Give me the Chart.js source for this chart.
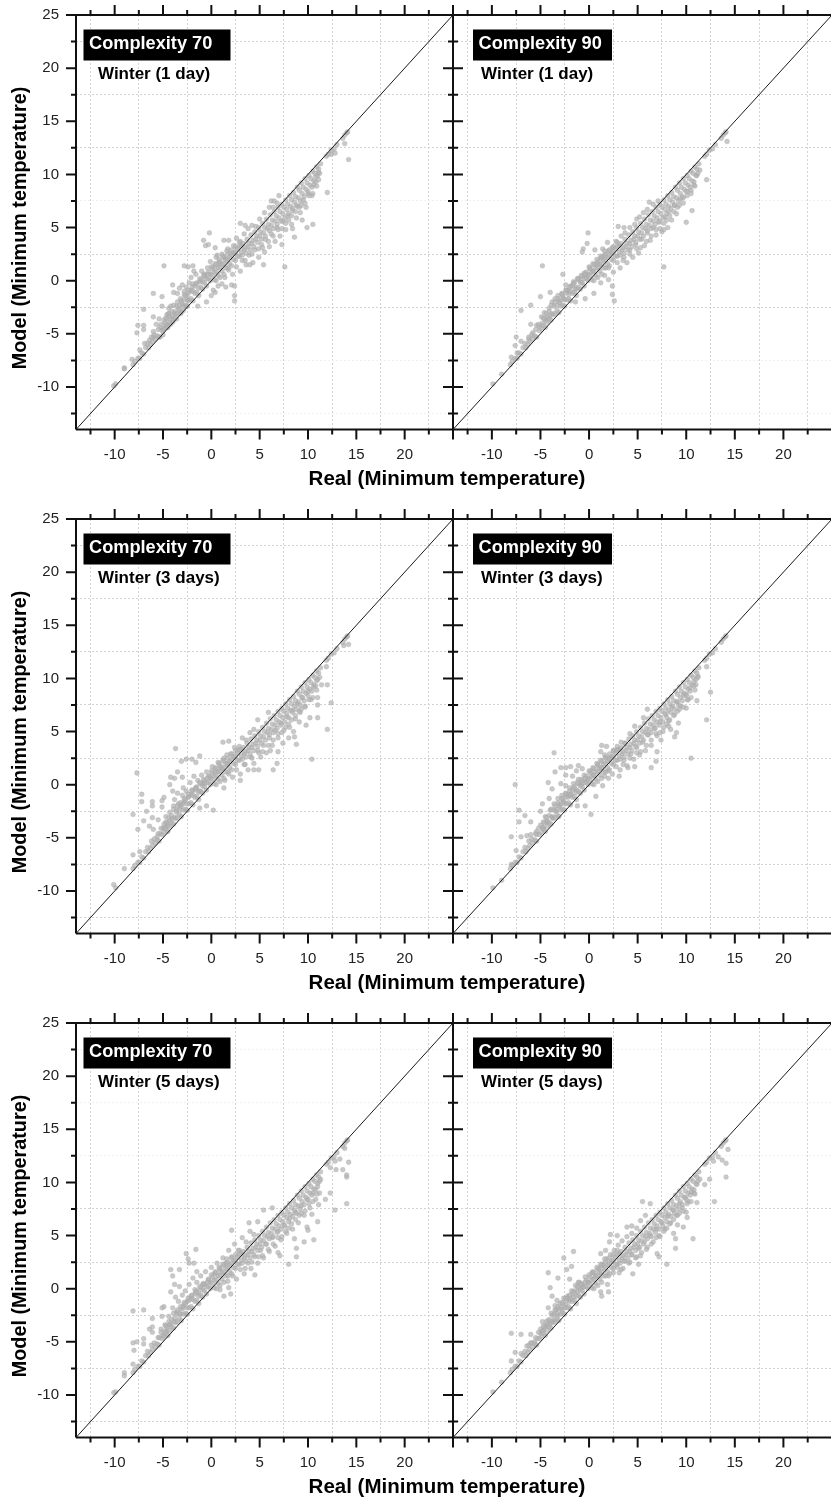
<!DOCTYPE html>
<html>
<head>
<meta charset="utf-8">
<title>Winter minimum temperature</title>
<script src="https://cdn.jsdelivr.net/npm/chart.js@4"></script>
<style>
  html, body { margin: 0; padding: 0; background: #fff; overflow: hidden; }
  #page { position: relative; width: 831px; height: 1503px; overflow: hidden; }
  canvas { position: absolute; }
</style>
</head>
<body>
<div id="page"></div>
<script>
// ticks, every 2.5 degrees, labels only on the multiples of 5
const xTicks = [-12.5,-10,-7.5,-5,-2.5,0,2.5,5,7.5,10,12.5,15,17.5,20,22.5,25];
const yTicks = [-12.5,-10,-7.5,-5,-2.5,0,2.5,5,7.5,10,12.5,15,17.5,20,22.5,25];
const diagonal = [[-14,-14],[25,25]];

const complexities = ['Complexity 70', 'Complexity 90'];
const periods = ['Winter (1 day)', 'Winter (3 days)', 'Winter (5 days)'];
const xTitle = 'Real (Minimum temperature)';
const yTitle = 'Model (Minimum temperature)';

// points hugging the 1:1 line, the same in all six panels
const coreBand = [[-9.9,-9.7],[-8.1,-7.9],[-7.9,-7.6],[-7.6,-7.3],[-7.4,-7.3],[-7.2,-6.8],[-7,-6.9],[-6.8,-6.3],[-6.5,-6.3],[-6.3,-6],[-6.1,-5.7],[-5.8,-5.5],[-5.6,-5.2],[-5.4,-5.3],[-5.1,-4.7],[-4.9,-4.5],[-4.7,-4.2],[-4.5,-4.4],[-4.3,-3.9],[-4.1,-3.6],[-3.9,-3.7],[-3.7,-3.2],[-3.5,-3.1],[-3.3,-2.8],[-3.1,-3],[-2.9,-2.4],[-2.7,-2.3],[-2.5,-2.4],[-2.3,-1.8],[-2.1,-1.7],[-1.9,-1.9],[-1.7,-1.2],[-1.5,-1.1],[-1.3,-1.4],[-1.1,-0.6],[-0.9,-0.8],[-0.7,-0.2],[-0.5,-0.5],[-0.3,0.2],[-0.1,0],[0.1,0.5],[0.3,0.1],[0.5,0.9],[0.7,0.5],[0.9,1.3],[1.1,0.9],[1.3,1.6],[1.5,1.2],[1.7,2],[1.9,1.6],[2.1,2.4],[2.3,2],[2.5,2.7],[2.7,2.3],[2.9,3.2],[3.1,2.7],[3.3,3.5],[3.5,3.1],[3.7,3.9],[3.9,3.5],[4.1,4.3],[4.3,3.8],[4.5,4.6],[4.7,4.2],[4.9,5],[5.1,4.6],[5.3,5.4],[5.5,5],[5.7,5.8],[5.9,5.3],[6.1,6.2],[6.3,5.7],[6.5,6.5],[6.7,6.1],[6.9,6.9],[7.1,6.5],[7.3,7.2],[7.5,6.9],[7.7,7.6],[7.9,7.2],[8.1,8],[8.3,7.6],[8.5,8.3],[8.7,7.9],[8.9,8.8],[9.1,8.5],[9.3,9.2],[9.5,8.8],[9.7,9.6],[9.9,9.2],[10.1,9.9],[10.3,9.6],[10.5,10.3],[10.7,10.1],[10.9,10.7],[11.1,10.5],[11.3,11],[11.9,11.7],[12.1,11.9],[12.4,12.3],[12.7,12.4],[13,12.8],[13.6,13.4],[13.8,13.7],[14,13.9],[14.1,14]];

// the thick part of the cloud either side of the line, also common to the panels
const innerBand = [[-6.6,-5.9],[-6.2,-5.3],[-5.9,-5.1],[-5.5,-4.6],[-5.2,-4.1],[-4.8,-4],[-4.6,-3.6],[-4.3,-3.4],[-4.1,-2.9],[-3.8,-3.1],[-3.6,-2.4],[-3.3,-2.3],[-3.1,-1.9],[-2.9,-1.8],[-2.7,-1.4],[-2.5,-1.8],[-2.3,-1.1],[-2.1,-0.9],[-1.9,-1],[-1.7,-0.5],[-1.5,-0.2],[-1.3,-0.7],[-1.1,0.1],[-0.9,-0.1],[-0.7,0.4],[-0.5,0.2],[-0.3,0.8],[-0.1,0.6],[0.1,1.1],[0.3,0.8],[0.5,1.5],[0.7,1.2],[0.9,1.8],[1.1,1.5],[1.3,2.2],[1.5,1.9],[1.7,2.5],[1.9,2.2],[2.1,2.9],[2.3,2.6],[2.5,3.2],[2.7,3],[2.9,3.6],[3.1,3.3],
  [0.5,0],[0.9,0.3],[1.3,0.6],[1.7,1.2],[2.1,1.4],[2.5,1.9],[2.9,2.3],[3.2,2.4],[3.4,2.9],[3.6,2.6],[3.8,3.2],[4,2.9],[4.2,3.5],[4.4,3.2],[4.6,3.9],[4.8,3.6],[5,4.2],[5.2,3.9],[5.4,4.5],[5.6,4.2],[5.8,4.9],[6,4.7],[6.2,5.2],[6.4,4.9],[6.6,5.6],[6.8,5.3],[7,5.9],[7.2,5.6],[7.4,6.3],[7.6,5.9],[7.8,6.7],[8,6.3],[8.2,7],[8.4,6.8],[8.6,7.4],[8.8,7.1],[9,7.8],[9.2,7.5],[9.4,8.2],[9.6,7.9],[9.8,8.6],[10,8.4],[10.2,9],[10.4,8.8],[10.6,9.4],[10.8,9.3],[11,9.9],[11.2,10.1],
  [3.5,1.9],[4.2,2.5],[4.9,3],[5.3,3.1],[5.9,3.7],[6.4,4.2],[6.9,4.8],[7.3,4.9],[7.7,5.4],[8,5.7],[8.3,6.1],[8.7,6.5],[9.1,6.9],[9.3,7.1],[9.7,7.3],[10.1,8],[10.5,8.2],[10.9,8.9],
  [-4.7,-3.5],[-4.4,-3.1],[-3.9,-2.3],[-3.5,-2],[-3.2,-1.7],[-2.8,-1.3],[-2.4,-0.9],[-2,-0.6],[-1.6,-0.3],[-1.2,0.2],[-0.8,0.5],[-0.4,0.6],[0,1.3],[0.4,1.6],[0.8,2],[1.2,2.3],[1.6,2.8]];

const winter1c70 = [[-4.9,1.4],[-2.8,1.4],[-2.4,1.3],[-1.9,1.4],[-0.2,4.5],[-0.8,3.8],[-0.6,3.3],[-0.3,3.4],[0.4,3.1],[0.6,2.4],[1.3,3.8],[1.8,3.8],[3,5.4],[3.5,5.2],[6.2,7.5],[7,8],[6.5,7.5],[7.6,1.3],[9.9,5],[10.5,5.3],[12,8.3],[14.2,11.4],[13.8,12.9],[12.4,11.9],[12.8,12],[-6,-1.2],[-5.1,-1.5],[-7,-2.7],[-5.1,-2.4],[-6,-3.4],[-5.4,-3.6],[-7.6,-4.2],[-7,-4.2],[-7,-4.6],[-7.7,-4.9],[-6,-4.8],[-9,-8.2],[-9,-8.3],[-10.1,-9.9],[2.4,-1.9],[2.4,-1.4],[2.1,-0.4],[2.4,-0.5],[-1.4,-2.4],[-0.5,-2],[0,-1.4],[0.4,-1.1],
  [-4,-0.4],[-3.9,-1.1],[-3.5,-1.2],[-3.3,-0.7],[-3,-0.4],[-2.8,-1],[-2.6,-0.6],[-2.5,-1.4],[-2.3,-0.2],[-4.4,-3.1],[-4.2,-2.4],[-4,-3.4],[-3.8,-2.9],[-3.6,-3.6],[-3.4,-2.6],[-3.2,-3.1],[-3,-2.2],[-2.9,-2.8],[-2.6,-2.4],[-2.4,-1.9],[-5,-4.6],[-5,-5.1],[-4.7,-4.4],[-4.5,-4.1],[-4.2,-4.1],[-4,-3.9],[-5.3,-5.3],
  [1.4,0.3],[1.8,1],[2.2,0.6],[2.6,1.3],[3,0.9],[3.2,1.9],[3.6,1.5],[3.9,2.4],[4.3,1.7],[4.5,2.9],[4.9,2.2],[5.2,3.4],[5.5,2.7],[5.6,3.9],[6,3.2],[6.2,4.4],[6.6,3.7],[6.8,5],[7.1,4.2],[7.4,5.6],[7.7,4.8],[7.9,6.1],[8.3,5.3],[8.4,6.6],[8.8,5.9],[8.9,7],[9.2,6.4],[9.5,7.6],[9.8,6.9],[10,8.2],[10.4,8],[10.6,9],[11.1,9.5],[11.1,10.2],[10.8,9.8],[9.4,5.7],[8.4,4.9],[8.6,4.1],[7.3,3.4],[5.4,1.5],[4,1.5],
  [-8.2,-7.4],[-7.4,-6.5],[-6.9,-5.9],[-6.4,-5.6],[-6,-5.3],[-5.7,-4.1],[-5.3,-4.4],[-4.9,-3.7],[-4.6,-3.2],[-4.4,-2.6],[-1.9,-0.3],[-1.6,0.6],[-1.2,-0.1],[-1,0.9],[-0.7,0.6],[-0.4,1.2],[-1.8,0.9],[-2.1,0.3],[-0.1,1.8],[0.2,1.3],[0.5,2.2],[0.8,1.7],[1.1,2.5],[1.4,2.1],[1.7,3],[2,2.6],[2.3,3.3],[2.6,4],[3,3.7],[3.4,4.4],[3.8,4.9],[4.2,5.2],[4.6,5.1],[5,5.8],[5.5,6.4],[6,6.9],[6.4,6.9],[6.8,7.3],[0.2,-0.9],[0.7,-0.5],[1.1,-0.3],[1.5,-0.6]];

const winter1c90 = [[-4.8,1.4],[-2.7,0.6],[-0.1,4.5],[-0.2,3.5],[-0.6,3],[-0.7,2.7],[0.6,2.9],[1.4,3],[1.9,3.6],[3,5.1],[3.6,5],[4.9,5.8],[6.2,7.4],[7.1,7.5],[7.7,1.3],[10,5.5],[10.6,6.6],[12.1,9.5],[14.2,13.1],[-5,-1.5],[-6,-2.3],[-7,-2.8],[-6,-4.1],[-7.5,-5.3],[-7,-5.7],[-7.6,-6.1],[-9,-8.8],[2.6,-1.9],[2.4,-1.3],[2.4,-0.5],[2,0.1],[1.2,-0.2],[0.5,-1.2],[-0.4,-1.7],[-1.4,-2],[-2.4,-0.4],[-4,-1.1],
  [-3.8,-2],[-3.5,-1.7],[-3.2,-1.4],[-3,-2.1],[-2.8,-1.2],[-2.6,-1.7],[-2.3,-0.9],[-2.1,-1.3],[-1.9,-0.5],[-1.6,-0.1],[-1.4,-0.8],[-1.1,0.2],[-0.8,-0.2],[-0.5,0.7],[-0.2,0.4],[0.1,1.2],[0.4,0.9],[0.8,1.6],[1.2,2.1],[1.6,2.4],[2,2.8],[2.4,3.1],[2.8,3.7],[3.3,4.2],[3.7,4.5],[4.2,5],[4.7,5.3],[5.2,6],[5.6,6.4],[6,6.7],[6.6,7.2],[-4.9,-3.4],[-4.6,-3],[-4.4,-3.7],[-4.1,-2.6],[-4,-3.3],[-5.4,-4.2],[-5.1,-4.3],[-5.8,-4.9],[-6.2,-5.5],[-7.4,-6.8],[-8,-7.2],
  [1.6,0.5],[2,1.2],[2.5,0.8],[2.9,1.7],[3.2,1.2],[3.6,2.2],[3.9,1.7],[4.2,2.9],[4.5,2.2],[4.8,3.4],[5.1,2.6],[5.4,3.9],[5.7,3.3],[6,4.5],[6.3,3.8],[6.6,5],[6.9,4.3],[7.2,5.5],[7.5,4.6],[7.8,6],[8.1,5],[8.2,6.5],[8.5,5.7],[8.8,7.1],[9,6.3],[9.4,7.7],[9.7,7.8],[10.1,8.4],[10.5,8.5],[10.8,9],[11.1,9.9],[11.4,10.4],[7.7,4.8]];

const winter3c70 = [[-3.7,3.4],[-7.7,1.1],[-7.2,-0.9],[-7.2,-1.6],[-6.1,-1.6],[-6.1,-2],[-4.9,-1.2],[-5.1,-1.5],[-5.1,-2.1],[-8.1,-2.8],[-6.7,-2.5],[-6.1,-3.1],[-7,-3.4],[-5.5,-3.3],[-6.4,-3.9],[-7.6,-4.2],[-6,-4.2],[-4.9,-3.7],[-8.1,-6.6],[-7.4,-6.3],[-9,-7.9],[-10.1,-9.4],[-3.1,2.2],[-2.6,2.4],[-1.2,2.7],[-2,2.4],[-1.6,2.1],[-3.5,1.2],[-4.2,0.7],[-3.8,0.6],[-4.3,0],[-3,0.7],[-4,-0.6],[1.2,4],[1.8,4.1],[10.4,2.4],[12,5.2],[12.4,7.7],[12,9.4],[11.4,9.4],[11.9,11.1],[14.2,13.2],[13.7,13.1],[11,8.2],[11,7.5],[11,6.3],[10.2,6.3],[9.8,5.6],[8.8,3.8],[8.6,4.5],[6.8,2],[6.4,1.4],[6.9,3.1],[6.1,3.2],[0.2,-2.4],[-0.5,-2],[-1.2,-2.2],[1.3,-0.3],[3,0.4],[4.9,1.4],[4.4,1.4],[5.9,6.8],[4.8,6.1],
  [-5.6,-4.9],[-5.3,-4.6],[-5,-4.1],[-4.7,-3],[-4.5,-3.9],[-4.3,-2.6],[-4.1,-3.2],[-3.9,-2],[-3.8,-1.4],[-3.6,-2.6],[-3.5,-0.8],[-3.4,-1.8],[-3.2,-2.1],[-3,-1],[-2.9,-0.3],[-2.8,-1.6],[-2.6,-0.6],[-2.4,-1.2],[-2.2,0.2],[-2,-0.5],[-1.8,0.8],[-1.6,-0.3],[-1.4,0.4],[-1.2,-0.6],[-1,0.9],[-0.8,0.1],[-0.5,1.2],[-0.2,0.8],[0.1,1.7],[0.4,1.2],[0.7,2.1],[1,1.6],[1.3,2.5],[1.7,2],[2,2.9],[2.4,3.5],[2.8,3.3],[3.2,4.4],[3.6,4.2],[4,4.9],[4.4,5.2],
  [1.4,0.4],[1.8,1],[2.2,0.7],[2.6,1.4],[3,1],[3.4,1.9],[3.8,1.4],[4.1,2.6],[4.4,2],[4.8,3.2],[5.1,2.6],[5.4,3.7],[5.7,3],[6,4.4],[6.3,3.7],[6.6,5.1],[6.9,4.4],[7.2,5.8],[7.5,5.1],[7.8,6.4],[8.1,5.4],[8.4,7],[8.7,6.2],[8.9,7.6],[9.2,6.8],[9.4,8.2],[9.7,7.4],[10,8.8],[10.3,8],[10.6,9.2],[10.9,9.8],[8,4.4],[8.5,5],[7.4,3.9],[9.1,5.9]];

const winter3c90 = [[-3.6,3],[-7.6,0],[-7.2,-2.4],[-6.6,-2.9],[-7.2,-3.5],[-6,-3.5],[-5,-2.5],[-8,-4.9],[-7,-4.9],[-6.4,-4.8],[-6,-4.7],[-5.4,-4.4],[-7.5,-6.2],[-8,-7.5],[-9,-9],[-4.8,-1.8],[-4.1,-1.3],[-3.8,-0.4],[-4.2,0.2],[-3.5,1.2],[-2.9,1.6],[-2.4,1.6],[-2.4,0.9],[-1.9,1.7],[-1.1,1.8],[-0.7,1.5],[-1.3,1.3],[-1.7,0.8],[-2.9,0.1],[-2.4,-0.1],[1.3,3.7],[1.8,3.6],[1.2,3.1],[10.5,2.5],[12.1,6.1],[12.5,8.7],[11.1,7.9],[10.2,8],[10,7.2],[11,9.4],[12.1,11.1],[8.8,4.5],[9,4.9],[8.2,5.5],[7,3.1],[6.9,2.2],[6.4,1.6],[6,7.1],[5.6,6.3],[4.7,5.5],[0.2,-2.8],[0.7,-1.1],[-0.4,-2],[-1.2,-2],[3.1,0.8],[4.7,1.7],[4,1.6],[1.4,-0.1],[2,0.6],
  [-5.4,-4.7],[-5,-3.8],[-4.7,-4.1],[-4.5,-3],[-4.3,-3.5],[-4,-2.4],[-3.8,-3],[-3.6,-1.8],[-3.4,-2.5],[-3.2,-1.3],[-3,-2],[-2.8,-1],[-2.6,-1.6],[-2.4,-0.8],[-2.2,-1.2],[-2,-0.3],[-1.8,-0.9],[-1.6,0.1],[-1.3,-0.5],[-1.1,0.5],[-0.8,0],[-0.5,0.9],[-0.2,0.4],[0.2,1.3],[0.5,0.9],[0.9,1.9],[1.3,1.6],[1.7,2.6],[2.1,2.5],[2.5,3.2],[2.9,3.3],[3.3,4],[3.7,3.9],[4.2,4.8],
  [1.6,0.8],[2,1.3],[2.4,1],[2.8,1.7],[3.2,1.4],[3.6,2.3],[3.9,1.8],[4.3,2.9],[4.6,2.4],[4.9,3.5],[5.2,2.8],[5.5,4],[5.8,3.2],[6.1,4.7],[6.4,3.7],[6.7,5.3],[7,4.6],[7.3,5.9],[7.6,5],[7.9,6.6],[8.2,6],[8.5,7.3],[8.8,6.6],[9.1,7.8],[9.4,7.4],[9.7,8.4],[10,8.5],[10.4,9.1],[10.8,9.7],[11.2,10.2],[7.4,4.2],[8.4,5.2],[9.2,5.8]];

const winter5c70 = [[-8.1,-2.1],[-7,-2],[-6.1,-2.8],[-5.1,-2.6],[-4.9,-1.7],[-5.1,-1.8],[-6.4,-3.8],[-6.1,-3.6],[-6.1,-4.1],[-8.1,-5.1],[-7.7,-5],[-7,-4.7],[-7,-5.2],[-8,-5.8],[-8.1,-7.1],[-9,-7.9],[-9,-8.2],[-10.1,-9.8],[-4.2,1.8],[-3.3,1.8],[-4,1.2],[-2.6,3.3],[-1.6,3.7],[-2.4,2.8],[-2.3,2.4],[-1.8,2.4],[-3.8,0.4],[-4.2,-0.3],[-3.3,0.2],[-3.7,-0.8],[-1.5,1.6],[2.1,5.5],[3.9,6.2],[4.8,6.3],[5.4,7.4],[6.3,7.6],[14,8],[12.8,7.4],[14,10.5],[14,10.7],[13.6,11.2],[14.2,11.9],[12.9,11.2],[12.3,11.4],[12.3,9],[11.8,8.4],[11,6.3],[10.6,4.6],[9.6,4.4],[8.8,3],[8.8,3.8],[8.6,4.7],[8,2.3],[7.1,3.1],[6.9,3.4],[4.5,1.3],[1.3,-0.7],[2,-0.5],[1.8,0.1],[0.9,-0.1],[10,5.5],[9.9,5.8],[10.4,7],[11.1,7.9],
  [-5.4,-4.6],[-5.2,-3.8],[-5,-4.4],[-4.8,-3.4],[-4.6,-4],[-4.4,-2.6],[-4.2,-3.3],[-4,-1.8],[-3.8,-2.8],[-3.6,-2.2],[-3.4,-1.2],[-3.2,-2.4],[-3,-0.6],[-2.9,-1.6],[-2.7,-0.2],[-2.5,-1.2],[-2.3,0.4],[-2.1,-0.7],[-1.9,1],[-1.7,-0.1],[-1.5,0.6],[-1.3,-0.4],[-1.1,1.2],[-0.9,0.4],[-0.6,1.6],[-0.3,0.9],[0,2],[0.3,1.4],[0.6,2.4],[0.9,1.9],[1.2,2.9],[1.5,2.4],[1.8,3.6],[2.1,3],[2.4,4.2],[2.8,3.6],[3.2,4.8],[3.6,4.4],[4,5.4],[4.4,5.1],
  [1.7,0.7],[2.2,1.2],[2.6,0.9],[3,1.8],[3.4,1.4],[3.8,2.4],[4.1,1.9],[4.5,3],[4.8,2.4],[5.1,3.6],[5.4,2.9],[5.7,4.2],[6,3.5],[6.3,4.8],[6.6,4],[6.9,5.4],[7.2,4.6],[7.5,6],[7.8,5.2],[8.1,6.6],[8.4,5.6],[8.7,7.2],[9,6.2],[9.3,7.8],[9.6,6.9],[9.9,8.4],[10.2,7.6],[10.5,9],[10.8,8.4],[11,9.6],[11.3,10.3],[11.2,9],[12.8,12],[13.3,12.2],[13.8,13.2]];

const winter5c90 = [[-8,-4.2],[-7,-4.3],[-6,-4.3],[-6.4,-5.4],[-6,-5.1],[-7.6,-6],[-7,-6.1],[-8,-6.8],[-9,-8.8],[-4.2,1.5],[-3.2,1],[-4,0.1],[-3.8,-0.7],[-3.3,-1.1],[-4.2,-1.8],[-3.5,-1.6],[-5,-3.8],[-4.8,-3.1],[-2.6,2.9],[-1.6,3.5],[-2.3,1.8],[-1.8,2.1],[-2,0.9],[-1.1,0.6],[1.2,3.3],[1.7,3.6],[2.2,5.1],[2.9,5],[2.1,4.4],[3.9,5.8],[4.4,5.9],[5.5,8.2],[6.3,8],[8,2.3],[8.9,3.8],[8.9,4.7],[8.7,5.2],[10.7,4.7],[9.7,5.8],[9.1,6],[12.9,8.2],[14.1,10.5],[14.1,11.8],[13.7,12.1],[14.3,13.1],[12.4,10.3],[11.9,9.8],[11.1,8.1],[10.1,6.7],[10,7.2],[7,3.3],[7.2,3],[4.5,1.4],[5.1,2.3],[2,-0.3],[1.2,-0.3],[1.3,-0.7],[1.9,0.4],[3.1,1.5],
  [-5.6,-5],[-5.3,-4.7],[-5,-4.2],[-4.7,-3.9],[-4.4,-3.5],[-4.2,-3],[-4,-3.3],[-3.8,-2.5],[-3.6,-2.9],[-3.4,-2],[-3.2,-2.5],[-3,-1.4],[-2.8,-2],[-2.6,-0.9],[-2.4,-1.5],[-2.2,-0.7],[-2,-1.2],[-1.8,-0.2],[-1.6,-0.8],[-1.4,0.3],[-1.2,-0.3],[-1,0.6],[-0.7,0.1],[-0.4,1.1],[-0.1,0.6],[0.3,1.5],[0.6,1.1],[1,1.9],[1.4,2.3],[1.8,2.8],[2.2,3.2],[2.6,3.6],[3,4.1],[3.4,4.5],[3.9,4.9],[4.4,5.2],[4.9,5.7],[5.3,6.4],[5.8,6.9],
  [2,1.2],[2.5,1.5],[2.9,2],[3.3,1.8],[3.7,2.6],[4.1,2.4],[4.4,3.2],[4.8,2.9],[5.1,3.8],[5.4,3.4],[5.7,4.4],[6,3.9],[6.3,5],[6.6,4.4],[6.9,5.6],[7.2,5],[7.5,6.2],[7.8,5.6],[8.1,6.8],[8.4,6.2],[8.7,7.4],[9,6.9],[9.3,8],[9.6,7.6],[9.9,8.6],[10.2,8.2],[10.5,9.1],[10.8,9],[11.1,9.8],[11.4,10.3],[12.8,12],[13.3,12.4]];

const FONT = '"Liberation Sans", Arial, sans-serif';
const INK = '#111';

const isMajor = v => v % 5 === 0;
const toXY = pairs => pairs.map(p => ({ x: p[0], y: p[1] }));

const frameTicks = {
  id: 'frameTicks',
  afterDraw(chart, args, opts) {
    const { ctx, chartArea: a, scales } = chart;
    ctx.save();
    ctx.strokeStyle = INK;
    ctx.lineWidth = 2;
    ctx.beginPath();
    ctx.moveTo(a.left, a.bottom); ctx.lineTo(a.left, a.top); ctx.lineTo(a.right, a.top);
    ctx.moveTo(a.left, a.bottom); ctx.lineTo(a.right, a.bottom);
    ctx.stroke();
    ctx.beginPath();
    xTicks.forEach(v => {
      const px = scales.x.getPixelForValue(v);
      const len = isMajor(v) ? 10 : 5;
      ctx.moveTo(px, a.top); ctx.lineTo(px, a.top - len);
      ctx.moveTo(px, a.bottom); ctx.lineTo(px, a.bottom + len);
    });
    yTicks.forEach(v => {
      const py = scales.y.getPixelForValue(v);
      const len = isMajor(v) ? 10 : 5;
      ctx.moveTo(a.left - len, py);
      ctx.lineTo(opts.inner ? a.left + len : a.left, py);
    });
    ctx.stroke();
    ctx.restore();
  }
};

// black box, period line and the axis titles
const panelText = {
  id: 'panelText',
  afterDraw(chart, args, opts) {
    const { ctx, chartArea: a } = chart;
    const off = opts.inner ? 20 : 7.5;
    ctx.save();
    ctx.fillStyle = '#000';
    ctx.fillRect(a.left + off, a.top + 14.5, opts.inner ? 139 : 147, 31);
    ctx.textBaseline = 'middle';
    ctx.fillStyle = '#fff';
    ctx.font = 'bold 18.2px ' + FONT;
    ctx.fillText(opts.box, a.left + off + 5.5, a.top + 29);
    ctx.fillStyle = '#000';
    ctx.font = 'bold 17px ' + FONT;
    ctx.fillText(opts.period, a.left + (opts.inner ? 28 : 22), a.top + 59);
    if (!opts.inner) {
      ctx.textAlign = 'center';
      ctx.font = 'bold 20.5px ' + FONT;
      ctx.fillText(xTitle, 447, 479);
      ctx.font = 'bold 19.8px ' + FONT;
      ctx.translate(20.5, 228);
      ctx.rotate(-Math.PI / 2);
      ctx.fillText(yTitle, 0, 0);
    }
    ctx.restore();
  }
};

function linearAxis(showLabels, faint, labelTop) {
  return {
    type: 'linear',
    min: -14,
    max: 25,
    grid: {
      drawTicks: false,
      lineWidth: 1,
      color: c => {
        if (!c.tick || isMajor(c.tick.value)) return 'rgba(0,0,0,0)';
        return faint.includes(c.tick.value) ? '#f1f1f1' : '#d2d2d2';
      }
    },
    border: { display: false, dash: [2, 2] },
    ticks: {
      display: showLabels,
      autoSkip: false,
      maxRotation: 0,
      color: '#222',
      font: { family: FONT, size: 15 },
      callback: v => (isMajor(v) && (labelTop || v < 25) ? String(v) : '')
    }
  };
}

// the boxes are fixed so every panel keeps the same plot rectangle
function fixBox(s, size) {
  if (s.isHorizontal()) s.height = size; else s.width = size;
  s.paddingTop = s.paddingBottom = s.paddingLeft = s.paddingRight = 0;
}

function drawPanel(row, col, points, faintY) {
  const inner = col === 1;
  const canvas = document.createElement('canvas');
  const top = row * 504;
  canvas.style.top = top + 'px';
  canvas.style.left = (inner ? 433 : 0) + 'px';
  canvas.width = inner ? 399 : 600;
  canvas.height = 490;
  document.getElementById('page').appendChild(canvas);

  const xAxis = linearAxis(true, [], false);
  xAxis.afterFit = s => fixBox(s, 60.5);
  xAxis.afterBuildTicks = s => { s.ticks = xTicks.map(v => ({ value: v })); };
  xAxis.ticks.padding = 16;
  const yAxis = linearAxis(!inner, faintY, true);
  yAxis.afterFit = s => fixBox(s, inner ? 20 : 76);
  yAxis.afterBuildTicks = s => { s.ticks = yTicks.map(v => ({ value: v })); };
  yAxis.ticks.padding = 17;

  return new Chart(canvas, {
    type: 'scatter',
    data: {
      datasets: [
        {
          data: toXY(diagonal),
          showLine: true,
          borderColor: '#1a1a1a',
          borderWidth: 1,
          pointRadius: 0
        },
        {
          data: toXY(points.concat(innerBand, coreBand)),
          pointRadius: 2.4,
          backgroundColor: 'rgba(178,178,178,0.7)',
          borderColor: 'rgba(160,160,160,0.6)',
          borderWidth: 0.5
        }
      ]
    },
    options: {
      responsive: false,
      animation: false,
      events: [],
      layout: { autoPadding: false, padding: { top: 15, right: inner ? 0 : 147, left: 0, bottom: 0 } },
      scales: { x: xAxis, y: yAxis },
      plugins: {
        legend: { display: false },
        tooltip: { enabled: false },
        frameTicks: { inner },
        panelText: { inner, box: complexities[col], period: periods[row] }
      }
    },
    plugins: [frameTicks, panelText]
  });
}

drawPanel(0, 0, winter1c70, [7.5, -7.5, -12.5]);
drawPanel(0, 1, winter1c90, [7.5, -7.5, -12.5]);
drawPanel(1, 0, winter3c70, []);
drawPanel(1, 1, winter3c90, []);
drawPanel(2, 0, winter5c70, [22.5, 17.5, 12.5]);
drawPanel(2, 1, winter5c90, [22.5, 17.5, 12.5]);
</script>
</body>
</html>
